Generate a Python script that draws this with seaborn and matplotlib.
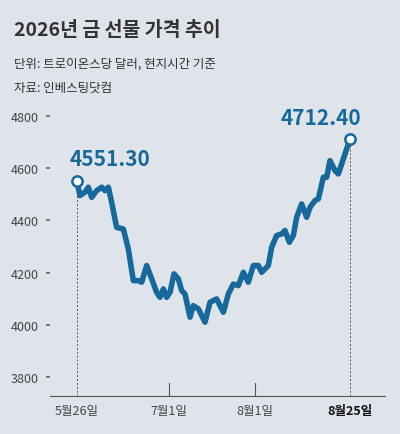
import matplotlib
matplotlib.use("Agg")
import matplotlib.pyplot as plt
import seaborn as sns
import pandas as pd

pos = [80,90,105,115,125,140,155,165,175,185,200,220,235,250,265,275,290,305,320,330,340,350,360,372,385,395,405,420,430,445,465,480,500,520,535,550,565,580,595,610,625,635,655,665,680,695,705,718,730,740,755,770,780,795,805,820,830,840,855,865,880,900]
price = [4551.3,4495,4508,4527,4488,4514,4527,4514,4527,4469,4373,4367,4290,4169,4169,4163,4227,4176,4124,4105,4137,4105,4124,4195,4176,4131,4118,4029,4073,4061,4010,4086,4099,4048,4118,4156,4150,4201,4163,4227,4227,4201,4227,4297,4342,4348,4361,4316,4342,4412,4463,4412,4450,4476,4482,4565,4565,4629,4591,4578,4635,4712.4]
tick_pos = [80, 358, 615, 900]
tick_labels = ["5월26일", "7월1일", "8월1일", "8월25일"]
yticks = [3800, 4000, 4200, 4400, 4600, 4800]

sns.set_theme(style="white")
plt.rcParams['font.family'] = ['Noto Sans CJK KR', 'DejaVu Sans']
bg = "#dfe4ea"
blue = "#17699c"
gray = "#333333"

fig = plt.figure(figsize=(4, 4.35), dpi=100, facecolor=bg)
ax = fig.add_axes([50/400, 1-397/435, 335/400, 297/435], facecolor=bg)
df = pd.DataFrame({"x": pos, "y": price})
sns.lineplot(data=df, x="x", y="y", ax=ax, color=blue, lw=4, solid_joinstyle="round", solid_capstyle="round")
ax.set_xlim(0, 1005)
ax.set_ylim(3727, 4865)
for s in ["top", "right", "left"]:
    ax.spines[s].set_visible(False)
ax.spines["bottom"].set_color("#555555")
ax.spines["bottom"].set_linewidth(0.8)
ax.set_xlabel(""); ax.set_ylabel("")
ax.set_yticks(yticks)
ax.set_yticklabels([str(v) for v in yticks], ha="left", color="#444444", fontsize=9)
ax.tick_params(axis="y", pad=25, length=3, color="#666666", left=True)
ax.set_xticks(tick_pos)
ax.set_xticklabels(tick_labels, fontsize=9, color="#444444")
ax.get_xticklabels()[-1].set_fontweight("bold")
ax.get_xticklabels()[-1].set_color("#111111")
ax.tick_params(axis="x", length=0, pad=6)
for tp in tick_pos[1:3]:
    ax.plot([tp, tp], [3727, 3775], color="#555555", lw=0.8)
for i in (0, -1):
    ax.plot([pos[i], pos[i]], [3727, price[i]], color="#555555", lw=0.7, ls=(0, (2, 2)))
ax.scatter([pos[0], pos[-1]], [price[0], price[-1]], s=55, facecolor="white", edgecolor=blue, linewidth=1.8, zorder=5)
ax.text(pos[0] - 20, price[0] + 45, "4551.30", color=blue, fontsize=15, fontweight="bold", ha="left", va="bottom")
ax.text(pos[-1] + 35, price[-1] + 40, "4712.40", color=blue, fontsize=15, fontweight="bold", ha="right", va="bottom")

fig.text(14/400, 1-30/435, "2026년 금 선물 가격 추이", fontsize=14, fontweight="bold", color=gray, va="center")
fig.text(14/400, 1-64/435, "단위: 트로이온스당 달러, 현지시간 기준", fontsize=9, color=gray, va="center")
fig.text(14/400, 1-88/435, "자료: 인베스팅닷컴", fontsize=9, color=gray, va="center")
fig.savefig("out.png", dpi=100, facecolor=bg)
